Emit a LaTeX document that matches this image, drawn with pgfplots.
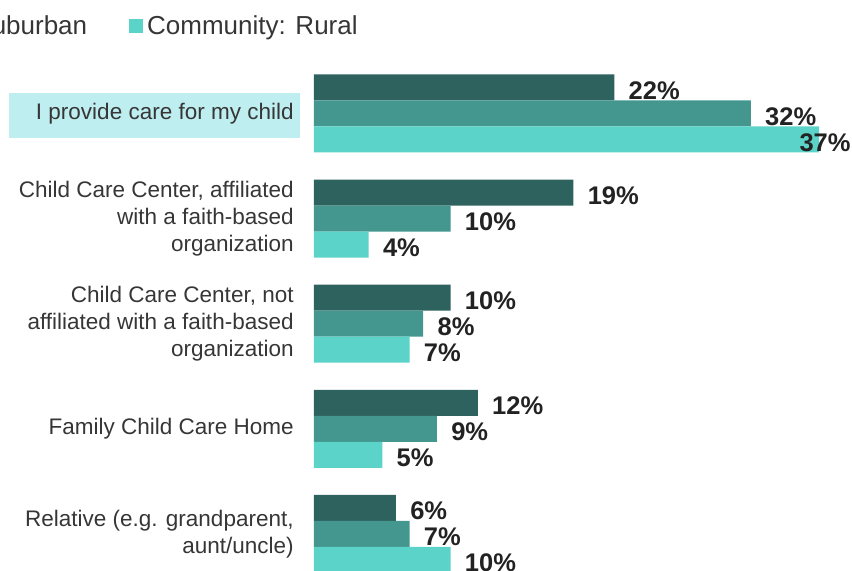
\documentclass[border=0pt]{standalone}
\usepackage{fontspec}
\setmainfont{Liberation Sans}
\usepackage{pgfplots}
\pgfplotsset{compat=1.18}
\definecolor{urban}{HTML}{2D625E}
\definecolor{suburban}{HTML}{43978F}
\definecolor{rural}{HTML}{5CD3C9}
\definecolor{hilite}{HTML}{BEEEF0}
\definecolor{catc}{HTML}{363636}
\definecolor{valc}{HTML}{222222}
\begin{document}
\begin{tikzpicture}
% 1 px of the reference = 0.5pt; y values are -pixel rows of group centres
\begin{axis}[
  name=ax,
  set layers,
  scale only axis,
  width=269pt, height=285.5pt,
  xbar, bar width=13pt,
  xmin=0, xmax=39.41,
  ymin=-571, ymax=0,
  clip=false,
  hide x axis,
  y axis line style={draw=none},
  ytick style={draw=none},
  major tick length=0pt,
  ytick={-533.9,-428.8,-323.7,-218.6,-113.5},
  yticklabels={
    {Relative (e.g. grandparent,\\aunt/uncle)},
    {Family Child Care Home},
    {Child Care Center, not\\affiliated with a faith-based\\organization},
    {Child Care Center, affiliated\\with a faith-based\\organization},
    {I provide care for my child}},
  yticklabel style={align=right, anchor=east, inner sep=0pt, xshift=-10pt,
    font=\fontsize{11.25}{13.3}\selectfont, text=catc},
  /pgf/number format/assume math mode=true,
  visualization depends on={x \as \rawx},
  nodes near coords={\pgfmathprintnumber{\pgfplotspointmeta}\%},
  nodes near coords style={anchor=west, inner sep=0pt,
    xshift={ifthenelse(\rawx>35,-10,7)}, yshift=-1.5pt,
    font=\fontsize{12.75}{12.75}\selectfont\bfseries, text=valc},
  legend columns=3,
  legend style={draw=none, fill=none, at={(0.1005,0.954)}, anchor=east,
    font=\fontsize{13}{13}\selectfont, text=catc,
    /tikz/every even column/.append style={column sep=19pt}},
  legend image code/.code={\fill[#1,draw=none] (0pt,-3.5pt) rectangle (7pt,3.5pt);},
]
\begin{pgfonlayer}{axis background}
  \fill[hilite] (axis cs:-22.34,-93) rectangle (axis cs:-1.03,-138);
\end{pgfonlayer}
\addplot[fill=urban, draw=none, bar shift=13pt] coordinates {
  (22,-113.5) (19,-218.6) (10,-323.7) (12,-428.8) (6,-533.9)};
\addlegendentry{Community: Urban}
\addplot[fill=suburban, draw=none, bar shift=0pt] coordinates {
  (32,-113.5) (10,-218.6) (8,-323.7) (9,-428.8) (7,-533.9)};
\addlegendentry{Community: Suburban}
\addplot[fill=rural, draw=none, bar shift=-13pt] coordinates {
  (37,-113.5) (4,-218.6) (7,-323.7) (5,-428.8) (10,-533.9)};
\addlegendentry{Community: Rural}
\end{axis}
\pgfresetboundingbox
\useasboundingbox ([xshift=-157pt]ax.south west) rectangle (ax.north east);
\end{tikzpicture}
\end{document}
